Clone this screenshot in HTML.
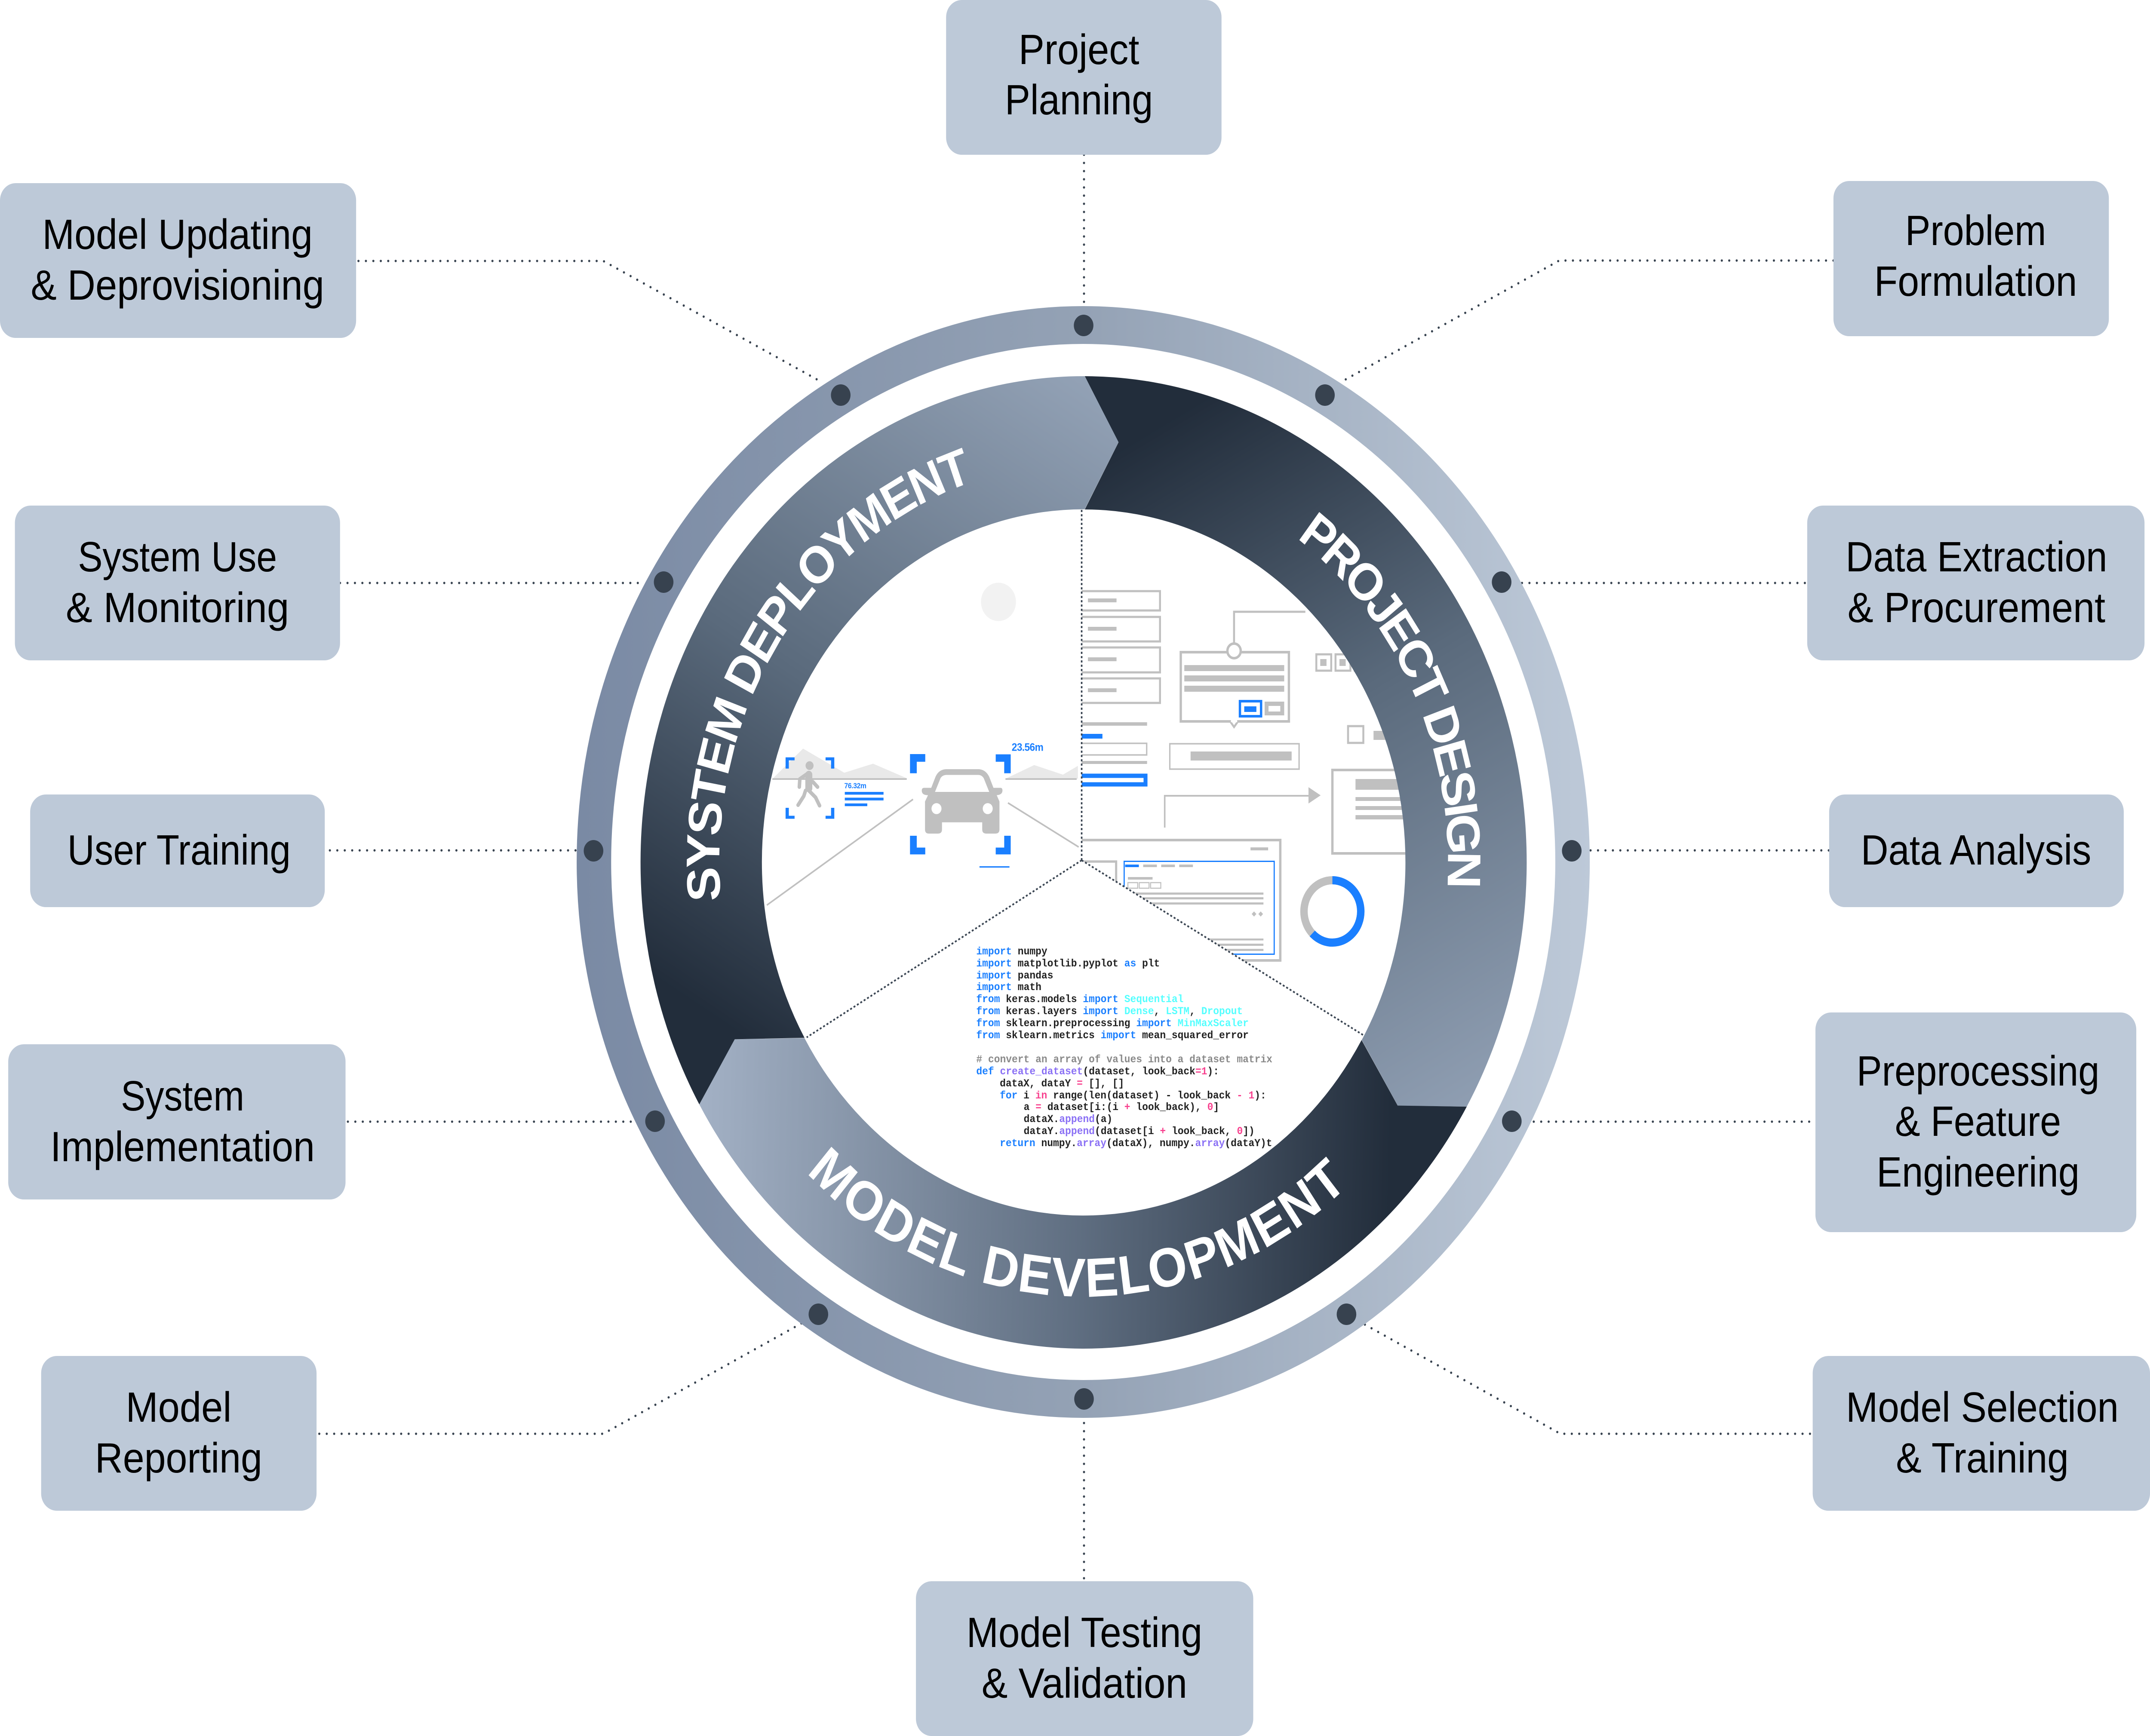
<!DOCTYPE html>
<html lang="en"><head><meta charset="utf-8"><title>ML lifecycle</title>
<style>
html,body{margin:0;padding:0;background:#fff;width:100%;height:100%;overflow:hidden}
svg{display:block;width:100vw;height:100vh}
.b{font:98px "Liberation Sans",sans-serif;text-anchor:middle;fill:#000}
.t{font:bold 120px "Liberation Sans",sans-serif;fill:#fff}
.c{font:bold 25.2px "Liberation Mono",monospace;fill:#222}
.k{fill:#1a7fff}.s{fill:#5ff}.p{fill:#8a70f5}.r{fill:#f8428f}.g{fill:#8a8a8a}
.n{fill:#1a7fff;font-family:"Liberation Sans",sans-serif;font-weight:bold}
</style></head>
<body>
<svg xmlns="http://www.w3.org/2000/svg" viewBox="0 0 5488 4038" preserveAspectRatio="none">
<defs>
<clipPath id="rc"><rect x="2761" y="1100" width="1000" height="1300"/></clipPath>
<linearGradient id="ring" gradientUnits="userSpaceOnUse" x1="1472" y1="2005" x2="4059" y2="2005"><stop offset="0" stop-color="#7a8aa4"/><stop offset=".5" stop-color="#94a2b5"/><stop offset="1" stop-color="#bdc9d8"/></linearGradient>
<linearGradient id="g1" gradientUnits="userSpaceOnUse" x1="2800" y1="950" x2="3700" y2="2600"><stop offset=".06" stop-color="#222d3b"/><stop offset=".48" stop-color="#5a6a7c"/><stop offset="1" stop-color="#8f9eb2"/></linearGradient>
<linearGradient id="g2" gradientUnits="userSpaceOnUse" x1="2800" y1="950" x2="3700" y2="2600"><stop offset=".06" stop-color="#222d3b"/><stop offset=".48" stop-color="#5f6e81"/><stop offset="1" stop-color="#a3b1c5"/></linearGradient>
<linearGradient id="g3" gradientUnits="userSpaceOnUse" x1="2800" y1="950" x2="3700" y2="2600"><stop offset=".06" stop-color="#222d3b"/><stop offset=".48" stop-color="#5a6a7c"/><stop offset="1" stop-color="#93a2b6"/></linearGradient>
<path id="seg" d="M2769 875A1131 1131 0 0 1 3744 2574L3568 2572L3476 2419A821 821 0 0 0 2769 1185L2855 1029Z"/>
<path id="cw1" d="M2766 2936A930 930 0 1 1 2766 1076A930 930 0 1 1 2766 2936"/>
<path id="cw2" d="M2766 1076A930 930 0 1 1 2766 2936A930 930 0 1 1 2766 1076"/>
<path id="ccw" d="M2766 996A1010 1010 0 1 0 2766 3016A1010 1010 0 1 0 2766 996"/>
</defs>
<rect width="5488" height="4038" fill="#fff"/>

<!-- connectors -->
<g fill="none" stroke="#37424f" stroke-width="5.500" stroke-linecap="round" stroke-dasharray="0 19">
<path d="M2767 360V712"/><path d="M2767 3310V3678"/>
<path d="M915 607H1540L2100 890"/><path d="M4680 606H3980L3428 886"/>
<path d="M868 1356H1640"/><path d="M3885 1356H4613"/>
<path d="M842 1978H1470"/><path d="M4060 1978H4669"/>
<path d="M888 2609H1620"/><path d="M3915 2609H4634"/>
<path d="M815 3335H1540L2046 3078"/><path d="M3484 3081L3983 3335H4627"/>
</g>

<!-- illustration: right -->
<g fill="none" stroke="#c0c0c0" stroke-width="5" clip-path="url(#rc)">
<rect x="2755" y="1375" width="206" height="45"/><rect x="2755" y="1435" width="206" height="57"/><rect x="2755" y="1506" width="206" height="58"/><rect x="2755" y="1578" width="206" height="57"/>
<rect x="2755" y="1729" width="172" height="27" stroke-width="3.5"/>
<rect x="3014" y="1517" width="276" height="161" stroke-width="6"/>
<path d="M3150 1496V1423H3332"/>
<rect x="2986" y="1730" width="330" height="59" stroke-width="3.5"/>
<rect x="3360" y="1522" width="38" height="38"/><rect x="3409" y="1522" width="38" height="38"/><rect x="3458" y="1522" width="38" height="38"/>
<rect x="3441" y="1689" width="39" height="39"/>
<rect x="3401" y="1791" width="300" height="194" stroke-width="6"/>
<path d="M2973 1925V1851H3342" stroke-width="4"/>
<path d="M2755 1954H3268V2234H2755Z" stroke-width="6"/>
<path d="M2755 2004H2849V2060" stroke-width="5.5"/>
</g>
<g fill="#c0c0c0">
<rect x="2777" y="1392" width="73" height="9"/><rect x="2777" y="1458" width="73" height="9"/><rect x="2777" y="1529" width="73" height="9"/><rect x="2777" y="1601" width="73" height="9"/>
<rect x="2761" y="1680" width="167" height="8"/><rect x="2761" y="1770" width="167" height="7"/>
<rect x="3023" y="1547" width="255" height="14"/><rect x="3023" y="1571" width="255" height="14"/><rect x="3023" y="1595" width="255" height="14"/>
<rect x="3228" y="1632" width="50" height="32"/>
<rect x="3039" y="1748" width="258" height="21"/>
<rect x="3370" y="1533" width="16" height="16"/><rect x="3419" y="1533" width="16" height="16"/>
<rect x="3506" y="1700" width="60" height="21"/>
<rect x="3460" y="1812" width="200" height="25"/><rect x="3460" y="1854" width="200" height="9"/><rect x="3460" y="1875" width="200" height="9"/><rect x="3460" y="1896" width="200" height="10"/>
<path d="M3340 1831L3371 1850L3340 1869Z"/>
<rect x="3192" y="1971" width="45" height="7"/>
<rect x="2918" y="2011" width="35" height="6"/><rect x="2964" y="2011" width="35" height="6"/><rect x="3010" y="2011" width="35" height="6"/>
<rect x="2879" y="2040" width="63" height="6"/>
<rect x="2879" y="2076" width="346" height="5"/><rect x="2879" y="2087" width="346" height="5"/><rect x="2879" y="2099" width="346" height="5"/>
<rect x="2879" y="2183" width="346" height="4.5"/><rect x="2879" y="2195" width="346" height="5"/><rect x="2879" y="2207" width="346" height="5"/>
<path d="M3201 2120l6 6l-6 6l-6-6ZM3218 2120l6 6l-6 6l-6-6Z"/>
</g>
<rect x="3238" y="1642" width="30" height="13" fill="#fff"/>
<path d="M3140 1678L3150 1691L3160 1678" fill="#fff" stroke="#c0c0c0" stroke-width="5"/>
<rect x="3142" y="1674" width="16" height="6" fill="#fff"/>
<circle cx="3150" cy="1514" r="17" fill="#fff" stroke="#c0c0c0" stroke-width="6"/>
<g fill="#1a7fff">
<rect x="2761" y="1707" width="53" height="11"/>
<rect x="3176" y="1643" width="31" height="13"/>
<rect x="2872" y="2011" width="35" height="6"/>
</g>
<path d="M2761 1804.500H2924V1824.500H2761" fill="none" stroke="#1a7fff" stroke-width="10"/>
<rect x="3165" y="1631" width="54" height="35" fill="none" stroke="#1a7fff" stroke-width="6"/>
<rect x="2869.500" y="2003.500" width="383" height="216" fill="none" stroke="#1a7fff" stroke-width="3"/>
<g fill="#fff" stroke="#c0c0c0" stroke-width="2.500"><rect x="2879" y="2053" width="25" height="13"/><rect x="2908" y="2053" width="25" height="13"/><rect x="2937" y="2053" width="26" height="13"/></g>
<g fill="none" stroke-width="19">
<circle cx="3401" cy="2120" r="72.500" stroke="#c0c0c0"/>
<path d="M3401 2047.500A72.500 72.500 0 1 1 3349.700 2171.300" stroke="#1a7fff"/>
</g>

<!-- illustration: left -->
<g transform="translate(1900 1150) scale(.6378)">
<circle cx="1017" cy="392" r="70" fill="#f2f2f2"/>
<path d="M115 1035L235 927L400 1015L515 982L650 1035Z M1045 1037L1160 987L1275 1022L1335 990V1037Z" fill="#e9e9e9"/>
<g fill="none" stroke="#c0c0c0" stroke-width="6">
<path d="M112 1038H650M1045 1038H1330"/>
<path d="M90 1498L675 1112M1055 1125L1338 1286"/>
</g>
<path fill="#c0c0c0" d="M723 1120L735 1097Q710 1097 710 1080Q710 1070 720 1070L748 1070L765 1030Q778 1002 810 1002L935 1002Q965 1002 980 1030L997 1070L1025 1070Q1033 1070 1033 1080Q1033 1095 1010 1097L1021 1120L1021 1222Q1021 1237 1005 1237L968 1237Q952 1237 952 1222L952 1196L791 1196L791 1222Q791 1237 775 1237L738 1237Q723 1237 723 1222Z"/>
<path fill="#fff" d="M763 1085L785 1035Q793 1023 810 1023L935 1023Q950 1023 958 1035L980 1085Z"/>
<circle cx="769" cy="1146" r="20" fill="#fff"/><circle cx="974" cy="1146" r="20" fill="#fff"/>
<g fill="#1a7fff">
<path d="M663 947H724V975H690V1017H663Z"/><path d="M1006 948H1066V1017H1040V975H1006Z"/>
<path d="M663 1245H690V1288H724V1313H663Z"/><path d="M1040 1245H1066V1313H1006V1288H1040Z"/>
<path d="M165 959H201V970H178V1000H165Z"/><path d="M325 959H360V1000H347V970H325Z"/>
<path d="M165 1143H178V1172H201V1183H165Z"/><path d="M347 1143H360V1183H325V1172H347Z"/>
<rect x="402" y="1085" width="155" height="10"/><rect x="402" y="1106" width="155" height="10"/><rect x="402" y="1127" width="90" height="10"/>
<rect x="941" y="1356" width="120" height="5"/>
</g>
<circle cx="261" cy="989" r="16" fill="#c0c0c0"/>
<g fill="none" stroke="#c0c0c0" stroke-linecap="round" stroke-linejoin="round">
<path d="M258 1022V1072" stroke-width="28"/>
<path d="M258 1015L222 1038L220 1067M274 1048L293 1067M258 1080L285 1105L301 1135M245 1080L238 1100L215 1133" stroke-width="14"/>
</g>
<text class="n" x="400" y="1072" font-size="27" letter-spacing="-.6">76.32m</text>
<text class="n" x="1070" y="935" font-size="39" letter-spacing="-1">23.56m</text>
</g>

<!-- code wedge -->
<path d="M2761 2001L2059 2413L2100 2900H3500L3484 2410Z" fill="#fff"/>
<g fill="none" stroke="#3a4552" stroke-width="4" stroke-dasharray="5 5">
<path d="M2761 2001V1184M2761 2001L2059 2413M2761 2001L3484 2410"/>
</g>
<text class="c" xml:space="preserve">
<tspan x="2492" y="2220"><tspan class="k">import</tspan> numpy</tspan>
<tspan x="2492" y="2248"><tspan class="k">import</tspan> matplotlib.pyplot <tspan class="k">as</tspan> plt</tspan>
<tspan x="2492" y="2276"><tspan class="k">import</tspan> pandas</tspan>
<tspan x="2492" y="2303"><tspan class="k">import</tspan> math</tspan>
<tspan x="2492" y="2331"><tspan class="k">from</tspan> keras.models <tspan class="k">import</tspan> <tspan class="s">Sequential</tspan></tspan>
<tspan x="2492" y="2359"><tspan class="k">from</tspan> keras.layers <tspan class="k">import</tspan> <tspan class="s">Dense</tspan>, <tspan class="s">LSTM</tspan>, <tspan class="s">Dropout</tspan></tspan>
<tspan x="2492" y="2387"><tspan class="k">from</tspan> sklearn.preprocessing <tspan class="k">import</tspan> <tspan class="s">MinMaxScaler</tspan></tspan>
<tspan x="2492" y="2415"><tspan class="k">from</tspan> sklearn.metrics <tspan class="k">import</tspan> mean_squared_error</tspan>
<tspan x="2492" y="2471" class="g"># convert an array of values into a dataset matrix</tspan>
<tspan x="2492" y="2499"><tspan class="k">def</tspan> <tspan class="p">create_dataset</tspan>(dataset, look_back<tspan class="r">=1</tspan>):</tspan>
<tspan x="2552" y="2527">dataX, dataY <tspan class="r">=</tspan> [], []</tspan>
<tspan x="2552" y="2555"><tspan class="k">for</tspan> i <tspan class="r">in</tspan> range(len(dataset) - look_back <tspan class="r">- 1</tspan>):</tspan>
<tspan x="2613" y="2582">a <tspan class="r">=</tspan> dataset[i:(i <tspan class="r">+</tspan> look_back), <tspan class="r">0</tspan>]</tspan>
<tspan x="2613" y="2610">dataX.<tspan class="p">append</tspan>(a)</tspan>
<tspan x="2613" y="2638">dataY.<tspan class="p">append</tspan>(dataset[i <tspan class="r">+</tspan> look_back, <tspan class="r">0</tspan>])</tspan>
<tspan x="2552" y="2666"><tspan class="k">return</tspan> numpy.<tspan class="p">array</tspan>(dataX), numpy.<tspan class="p">array</tspan>(dataY)t</tspan>
</text>

<!-- rings -->
<circle cx="2765" cy="2005" r="1249" fill="none" stroke="url(#ring)" stroke-width="88"/>
<use href="#seg" fill="url(#g1)"/>
<use href="#seg" fill="url(#g2)" transform="rotate(120 2766 2006)"/>
<use href="#seg" fill="url(#g3)" transform="rotate(240 2766 2006)"/>
<g fill="#37424f">
<circle cx="2766" cy="757" r="25"/><circle cx="3382" cy="919" r="25"/><circle cx="3833" cy="1354" r="25"/><circle cx="4012" cy="1979" r="25"/><circle cx="3859" cy="2608" r="25"/><circle cx="3437" cy="3057" r="25"/><circle cx="2767" cy="3254" r="25"/><circle cx="2089" cy="3057" r="25"/><circle cx="1672" cy="2608" r="25"/><circle cx="1515" cy="1979" r="25"/><circle cx="1694" cy="1354" r="25"/><circle cx="2146" cy="919" r="25"/>
</g>
<text class="t" letter-spacing="-6"><textPath href="#cw1" startOffset="1372">SYSTEM DEPLOYMENT</textPath></text>
<text class="t" letter-spacing="-9.2"><textPath href="#cw2" startOffset="581">PROJECT DESIGN</textPath></text>
<text class="t" style="font-size:128px" letter-spacing="3.4"><textPath href="#ccw" startOffset="2389">MODEL DEVELOPMENT</textPath></text>

<!-- boxes -->
<g fill="#bdc9d8">
<rect x="2415" y="0" width="703" height="360" rx="40"/>
<rect x="4680" y="421" width="703" height="361" rx="40"/>
<rect x="4613" y="1176" width="861" height="360" rx="40"/>
<rect x="4669" y="1848" width="752" height="262" rx="40"/>
<rect x="4634" y="2355" width="819" height="511" rx="40"/>
<rect x="4627" y="3154" width="861" height="360" rx="40"/>
<rect x="2338" y="3678" width="861" height="360" rx="40"/>
<rect x="105" y="3154" width="703" height="360" rx="40"/>
<rect x="21" y="2429" width="861" height="361" rx="40"/>
<rect x="77" y="1848" width="752" height="262" rx="40"/>
<rect x="38" y="1176" width="830" height="360" rx="40"/>
<rect x="0" y="426" width="909" height="360" rx="40"/>
</g>
<g class="b" lengthAdjust="spacingAndGlyphs">
<text class="b" x="2754" y="149" textLength="308" lengthAdjust="spacingAndGlyphs">Project</text><text class="b" x="2754" y="266" textLength="378" lengthAdjust="spacingAndGlyphs">Planning</text>
<text class="b" x="5043" y="570" textLength="360" lengthAdjust="spacingAndGlyphs">Problem</text><text class="b" x="5043" y="688" textLength="518" lengthAdjust="spacingAndGlyphs">Formulation</text>
<text class="b" x="5045" y="1329" textLength="668" lengthAdjust="spacingAndGlyphs">Data Extraction</text><text class="b" x="5045" y="1447" textLength="658" lengthAdjust="spacingAndGlyphs">&amp; Procurement</text>
<text class="b" x="5044" y="2011" textLength="588" lengthAdjust="spacingAndGlyphs">Data Analysis</text>
<text class="b" x="5049" y="2525" textLength="620" lengthAdjust="spacingAndGlyphs">Preprocessing</text><text class="b" x="5049" y="2642" textLength="424" lengthAdjust="spacingAndGlyphs">&amp; Feature</text><text class="b" x="5049" y="2760" textLength="518" lengthAdjust="spacingAndGlyphs">Engineering</text>
<text class="b" x="5060" y="3307" textLength="696" lengthAdjust="spacingAndGlyphs">Model Selection</text><text class="b" x="5060" y="3425" textLength="441" lengthAdjust="spacingAndGlyphs">&amp; Training</text>
<text class="b" x="2768" y="3831" textLength="602" lengthAdjust="spacingAndGlyphs">Model Testing</text><text class="b" x="2768" y="3949" textLength="525" lengthAdjust="spacingAndGlyphs">&amp; Validation</text>
<text class="b" x="456" y="3307" textLength="270" lengthAdjust="spacingAndGlyphs">Model</text><text class="b" x="456" y="3425" textLength="427" lengthAdjust="spacingAndGlyphs">Reporting</text>
<text class="b" x="466" y="2583" textLength="315" lengthAdjust="spacingAndGlyphs">System</text><text class="b" x="466" y="2701" textLength="675" lengthAdjust="spacingAndGlyphs">Implementation</text>
<text class="b" x="457" y="2011" textLength="570" lengthAdjust="spacingAndGlyphs">User Training</text>
<text class="b" x="453" y="1329" textLength="508" lengthAdjust="spacingAndGlyphs">System Use</text><text class="b" x="453" y="1447" textLength="570" lengthAdjust="spacingAndGlyphs">&amp; Monitoring</text>
<text class="b" x="453" y="579" textLength="690" lengthAdjust="spacingAndGlyphs">Model Updating</text><text class="b" x="453" y="697" textLength="749" lengthAdjust="spacingAndGlyphs">&amp; Deprovisioning</text>
</g>
</svg>
</body></html>
